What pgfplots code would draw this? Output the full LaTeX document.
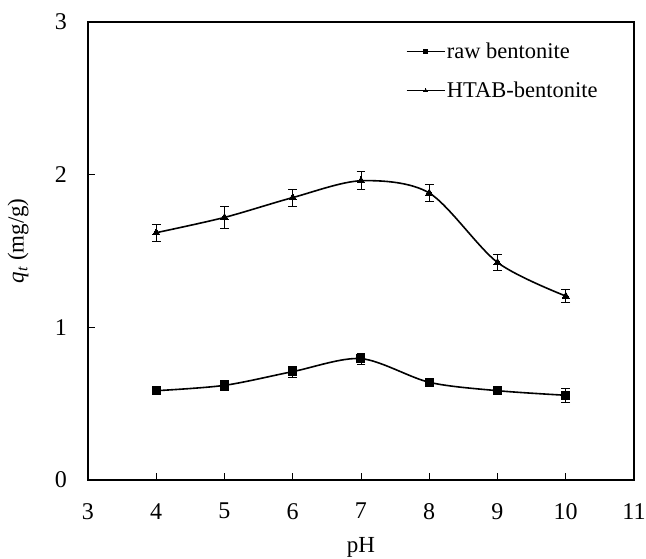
\documentclass[border=0pt]{standalone}
\usepackage{pgfplots}
\pgfplotsset{compat=1.18}
\usepackage{fontspec}
\setmainfont{Liberation Serif}
\begin{document}
\begin{tikzpicture}
\useasboundingbox (-88pt,-78pt) rectangle (558pt,480pt);
\begin{axis}[
  at={(0pt,0pt)}, anchor=south west,
  scale only axis,
  width=546pt, height=458pt,
  xmin=3, xmax=11, ymin=0, ymax=3,
  xtick={3,4,...,11}, ytick={0,1,2,3},
  tick align=inside, xtick pos=bottom, ytick pos=left,
  major tick length=7pt,
  axis line style={line width=1.5pt},
  tick style={line width=0.8pt, black},
  /pgf/number format/assume math mode=true,
  ticklabel style={font=\fontsize{24}{26}\selectfont, inner sep=0pt},
  xticklabel style={anchor=north, yshift=-23pt},
  yticklabel style={anchor=east, xshift=-21pt},
  xlabel={pH}, ylabel={\textit{q}\textsubscript{\textit{t}} (mg/g)},
  xlabel style={font=\fontsize{23}{24}\selectfont, at={(axis description cs:0.5,0)}, anchor=base, yshift=-72pt, inner sep=0pt},
  ylabel style={font=\fontsize{23}{24}\selectfont, at={(axis description cs:-0.128,0.522)}, anchor=center, inner sep=0pt},
  legend style={draw=none, fill=none, at={(axis description cs:0.582,0.958)}, anchor=north west,
    font=\fontsize{22.5}{25}\selectfont, row sep=19pt, inner sep=0pt, nodes={inner sep=1.5pt}},
  legend cell align=left,
  legend image code/.code={\draw[mark size=2.1pt, mark repeat=2, mark phase=2, line width=1.4pt] plot coordinates {(0pt,0pt) (19pt,0pt) (38pt,0pt)};},
  error bars/error bar style={line width=0.9pt, black},
  error bars/error mark options={rotate=90, mark size=4.3pt, line width=0.9pt, black},
]
\addplot[black, line width=1.6pt, smooth, tension=0.5, mark=square*, mark size=4pt, mark options={solid, fill=black, line width=0pt},
  error bars/.cd, y dir=both, y explicit]
  coordinates {
  (4,0.585) +- (0,0.02)
  (5,0.62) +- (0,0.035)
  (6,0.71) +- (0,0.035)
  (7,0.795) +- (0,0.035)
  (8,0.64) +- (0,0.02)
  (9,0.585) +- (0,0.02)
  (10,0.555) +- (0,0.045)
  };
\addlegendentry{raw bentonite}
\addplot[black, line width=1.6pt, smooth, tension=0.5, mark=triangle*, mark size=4.2pt, mark options={solid, fill=black, line width=0pt},
  error bars/.cd, y dir=both, y explicit]
  coordinates {
  (4,1.62) +- (0,0.055)
  (5,1.72) +- (0,0.07)
  (6,1.85) +- (0,0.055)
  (7,1.96) +- (0,0.06)
  (8,1.88) +- (0,0.055)
  (9,1.425) +- (0,0.05)
  (10,1.205) +- (0,0.04)
  };
\addlegendentry{HTAB-bentonite}
\end{axis}
\end{tikzpicture}
\end{document}
